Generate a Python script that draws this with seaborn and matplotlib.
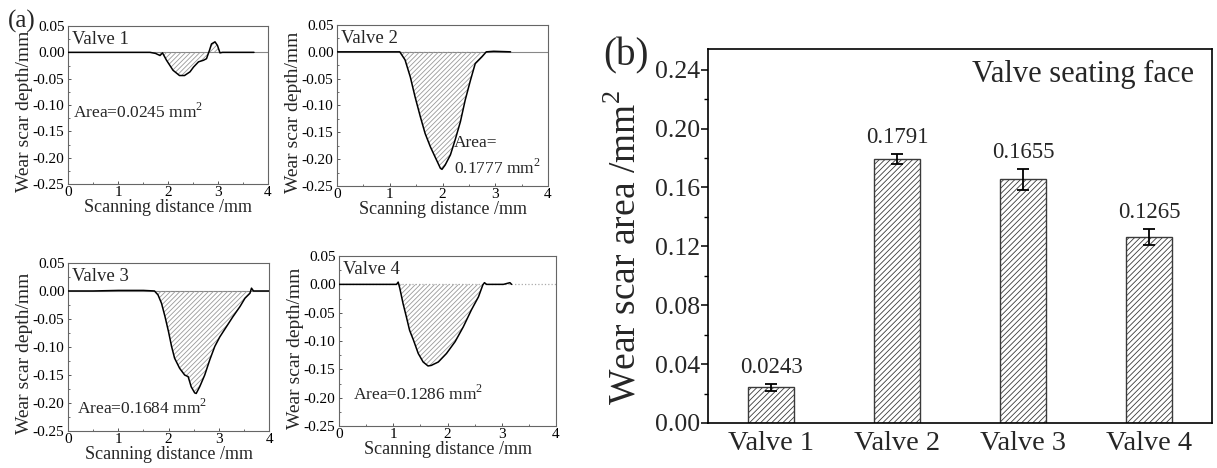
import pandas as pd
import seaborn as sns
import matplotlib.pyplot as plt
from matplotlib.ticker import MultipleLocator, FormatStrFormatter

# =====================================================================
# 1. DATOS
# =====================================================================
# (b) área de la huella de desgaste
valves = ['Valve 1', 'Valve 2', 'Valve 3', 'Valve 4']
area_mean = [0.0243, 0.1791, 0.1655, 0.1265]
area_err = [0.0024, 0.0035, 0.0072, 0.0055]

# (a) perfiles de profundidad (distancia en mm, profundidad en mm)
profile_area = ['0.0245', '0.1777', '0.1684', '0.1286']

v1_x = [0, 0.5, 1.0, 1.5, 1.64, 1.75, 1.84, 1.89, 1.97, 2.10, 2.23, 2.33, 2.44,
        2.51, 2.61, 2.71, 2.77, 2.83, 2.87, 2.94, 2.99, 3.04, 3.09, 3.40, 3.72]
v1_y = [0, 0, 0, 0, 0, -0.002, -0.006, -0.001, -0.015, -0.034, -0.044, -0.044,
        -0.037, -0.028, -0.018, -0.015, -0.012, 0.004, 0.016, 0.020, 0.013,
        -0.001, 0, 0, 0]

v2_x = [0, 0.5, 1.0, 1.19, 1.29, 1.39, 1.48, 1.58, 1.67, 1.77, 1.86, 1.96, 1.99,
        2.05, 2.15, 2.24, 2.34, 2.43, 2.53, 2.62, 2.69, 2.75, 2.83, 2.97, 3.29]
v2_y = [0, 0, 0, 0, -0.015, -0.047, -0.084, -0.121, -0.152, -0.177, -0.196,
        -0.217, -0.219, -0.211, -0.192, -0.164, -0.130, -0.090, -0.053, -0.022,
        -0.015, -0.009, 0, 0.001, 0]

v3_x = [0, 0.5, 1.0, 1.5, 1.72, 1.79, 1.86, 1.93, 2.00, 2.06, 2.12, 2.22, 2.32,
        2.39, 2.45, 2.52, 2.55, 2.62, 2.72, 2.82, 2.92, 3.02, 3.15, 3.28, 3.42,
        3.52, 3.62, 3.65, 3.69, 3.78, 4.0]
v3_y = [0, 0, 0.001, 0.001, 0, -0.007, -0.022, -0.046, -0.073, -0.099, -0.120,
        -0.138, -0.150, -0.153, -0.171, -0.182, -0.183, -0.171, -0.150, -0.123,
        -0.099, -0.082, -0.064, -0.046, -0.028, -0.013, -0.004, 0.005, 0, 0, 0]

v4_x = [0, 0.5, 1.0, 1.06, 1.09, 1.12, 1.18, 1.24, 1.30, 1.37, 1.46, 1.55, 1.64,
        1.70, 1.83, 1.98, 2.14, 2.29, 2.44, 2.57, 2.65, 2.68, 2.72, 3.03, 3.15, 3.18]
v4_y = [0, 0, 0, 0, 0.004, -0.007, -0.034, -0.057, -0.081, -0.098, -0.122,
        -0.137, -0.144, -0.143, -0.137, -0.122, -0.101, -0.075, -0.045, -0.022,
        -0.001, 0.003, 0, 0, 0.003, 0]

profiles = [(v1_x, v1_y), (v2_x, v2_y), (v3_x, v3_y), (v4_x, v4_y)]

# =====================================================================
# 2. ESTILO
# =====================================================================
sns.set_style("ticks")
plt.rcParams['font.family'] = ['Liberation Serif', 'DejaVu Serif']
plt.rcParams['mathtext.fontset'] = 'custom'
plt.rcParams['mathtext.rm'] = 'Liberation Serif'
plt.rcParams['axes.unicode_minus'] = False
plt.rcParams['hatch.linewidth'] = 0.6

fig = plt.figure(figsize=(12.17, 4.68), dpi=100)

# =====================================================================
# 3. PANEL (a): perfiles
# =====================================================================
cajas = [[0.0559, 0.6068, 0.1643, 0.3376],
         [0.2769, 0.6026, 0.1734, 0.3440],
         [0.0559, 0.0791, 0.1652, 0.3590],
         [0.2786, 0.0897, 0.1783, 0.3632]]
pos_area = [(0.10, -0.114), (2.22, -0.195), (0.17, -0.209), (0.26, -0.193)]

for i, (caja, (px, py)) in enumerate(zip(cajas, profiles)):
    ax = fig.add_axes(caja)
    if i == 3:
        ax.axhline(0, color='#aaaaaa', lw=0.9, ls=':', zorder=1)
    else:
        ax.axhline(0, color='#888888', lw=0.8, zorder=1)
    ax.fill_between(px, py, 0, facecolor='none', edgecolor='#999999',
                    hatch='///////', linewidth=0, zorder=2)
    sns.lineplot(x=px, y=py, ax=ax, color='black', linewidth=1.1,
                 sort=False, estimator=None, zorder=3)

    ax.set_xlim(0, 4)
    ax.set_ylim(-0.25, 0.05)
    ax.xaxis.set_major_locator(MultipleLocator(1))
    ax.xaxis.set_minor_locator(MultipleLocator(0.5))
    ax.yaxis.set_major_locator(MultipleLocator(0.05))
    ax.yaxis.set_minor_locator(MultipleLocator(0.025))
    ax.yaxis.set_major_formatter(FormatStrFormatter('%.2f'))
    ax.tick_params(which='major', direction='in', length=2.5, width=0.7,
                   color='#555555', labelsize=11, labelcolor='black')
    ax.tick_params(which='minor', direction='in', length=1.5, width=0.6,
                   color='#555555')
    ax.tick_params(axis='y', pad=2.5)
    ax.tick_params(axis='x', pad=1.5)
    for s in ax.spines.values():
        s.set_color('#666666')
        s.set_linewidth(0.8)

    ax.set_xlabel('Scanning distance /mm', fontsize=13, labelpad=0)
    ax.set_ylabel('Wear scar depth/mm', fontsize=14, labelpad=0, y=0.46)

    ax.text(0.02, 0.97, valves[i], transform=ax.transAxes, ha='left',
            va='top', fontsize=13.5)
    if i == 1:
        txt = 'Area=\n' + profile_area[i] + r' mm$^\mathregular{2}$'
        ax.text(*pos_area[i], txt, ha='left', va='center', fontsize=12.5,
                linespacing=1.45)
    else:
        txt = 'Area=' + profile_area[i] + r' mm$^\mathregular{2}$'
        ax.text(*pos_area[i], txt, ha='left', va='center', fontsize=12.5)

fig.text(0.0066, 0.942, '(a)', fontsize=18, ha='left', va='baseline')

# =====================================================================
# 4. PANEL (b): barras
# =====================================================================
axb = fig.add_axes([0.5818, 0.0962, 0.4141, 0.7991])
df_b = pd.DataFrame({'valve': valves, 'area': area_mean})
sns.barplot(data=df_b, x='valve', y='area', ax=axb, width=0.36,
            color='white', saturation=1, edgecolor='#3a3a3a', linewidth=1.0,
            hatch='//////', errorbar=None, zorder=2)
axb.errorbar(range(len(valves)), area_mean, yerr=area_err, fmt='none',
             ecolor='black', elinewidth=1.3, capsize=4.5, capthick=1.3, zorder=3)

for i, (v, e) in enumerate(zip(area_mean, area_err)):
    axb.text(i, v + e + 0.0075, f'{v:.4f}', ha='center', va='baseline',
             fontsize=16.5)

axb.text(0.964, 0.97, 'Valve seating face', transform=axb.transAxes,
         ha='right', va='top', fontsize=22)

axb.set_xlim(-0.5, 3.5)
axb.set_ylim(0, 0.254)
axb.yaxis.set_major_locator(MultipleLocator(0.04))
axb.yaxis.set_minor_locator(MultipleLocator(0.02))
axb.yaxis.set_major_formatter(FormatStrFormatter('%.2f'))
axb.tick_params(axis='y', which='major', direction='out', length=5, width=1.1,
                color='black', labelsize=18.5, pad=1)
axb.tick_params(axis='y', which='minor', direction='out', length=3, width=1.0,
                color='black')
axb.tick_params(axis='x', length=0, labelsize=20.5, pad=6)
for s in axb.spines.values():
    s.set_color('black')
    s.set_linewidth(1.2)

axb.set_xlabel('')
axb.set_ylabel(r'Wear scar area /mm$^\mathregular{2}$', fontsize=27)
axb.yaxis.set_label_coords(-0.128, 0.47)

fig.text(0.496, 0.861, '(b)', fontsize=28, ha='left', va='baseline')

plt.savefig('out.png', dpi=100)
plt.close()
